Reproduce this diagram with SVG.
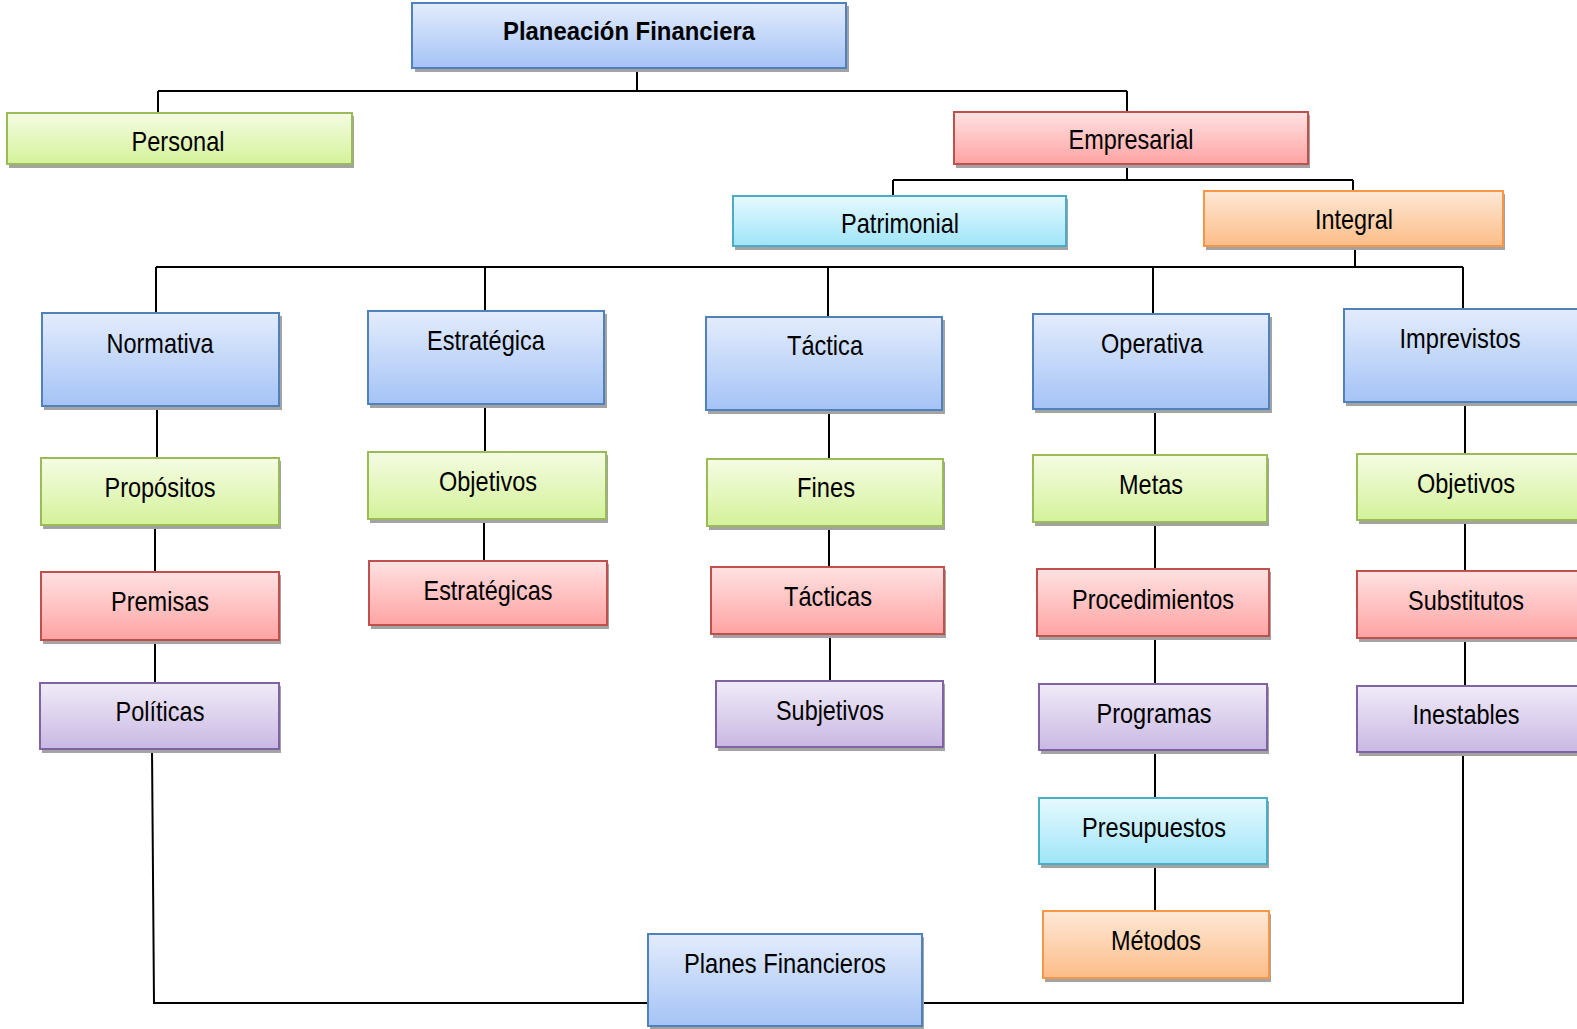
<svg xmlns="http://www.w3.org/2000/svg" width="1577" height="1029" viewBox="0 0 1577 1029">
<defs>
<linearGradient id="gBlue" x1="0" y1="0" x2="0" y2="1"><stop offset="0" stop-color="#e3ecfc"/><stop offset="1" stop-color="#a5c3f6"/></linearGradient>
<linearGradient id="gGreen" x1="0" y1="0" x2="0" y2="1"><stop offset="0" stop-color="#f5fce3"/><stop offset="1" stop-color="#d4f29a"/></linearGradient>
<linearGradient id="gRed" x1="0" y1="0" x2="0" y2="1"><stop offset="0" stop-color="#ffe2e2"/><stop offset="1" stop-color="#ffa3a3"/></linearGradient>
<linearGradient id="gCyan" x1="0" y1="0" x2="0" y2="1"><stop offset="0" stop-color="#e6f9fe"/><stop offset="1" stop-color="#9fe5f8"/></linearGradient>
<linearGradient id="gOrange" x1="0" y1="0" x2="0" y2="1"><stop offset="0" stop-color="#fee8d6"/><stop offset="1" stop-color="#fcbd88"/></linearGradient>
<linearGradient id="gPurple" x1="0" y1="0" x2="0" y2="1"><stop offset="0" stop-color="#f0ebf8"/><stop offset="1" stop-color="#c9b8e3"/></linearGradient>
</defs>
<style>
.sh{fill:#a3a3a3}
.blue{fill:url(#gBlue);stroke:#4f81bd;stroke-width:2}
.green{fill:url(#gGreen);stroke:#9bbb59;stroke-width:2}
.red{fill:url(#gRed);stroke:#c0504d;stroke-width:2}
.cyan{fill:url(#gCyan);stroke:#4bacc6;stroke-width:2}
.orange{fill:url(#gOrange);stroke:#f79646;stroke-width:2}
.purple{fill:url(#gPurple);stroke:#8064a2;stroke-width:2}
text{font-family:"Liberation Sans",Arial,sans-serif;font-size:28.5px;fill:#000;text-anchor:middle}
.title{font-weight:bold;font-size:25.5px}
.conn{fill:none;stroke:#000;stroke-width:2}
</style>
<g id="connectors" class="conn">
<path d="M637 68V92M158 91H1127M158 91V113M1127 91V112"/>
<path d="M1127 164V180M893 180H1353M893 180V196M1353 180V191"/>
<path d="M1355 246V267M156 267H1463M156 267V313M485 267V311M828 267V317M1153 267V314M1463 267V309"/>
<path d="M157 406V458M155 525V572M155 640V683"/>
<path d="M485 404V452M484 519V561"/>
<path d="M829 410V459M829 526V567M830 634V681"/>
<path d="M1155 409V455M1155 522V569M1155 636V684M1155 750V798M1155 864V911"/>
<path d="M1465 402V454M1465 520V571M1465 638V686"/>
<path d="M152 749L154 1003H648M1463 752V1003H921"/>
</g>
<g id="n-planeacion"><rect class="sh" x="415" y="6" width="434" height="66"/><rect class="blue" x="412" y="3" width="434" height="65"/><text class="title" x="629" y="40" textLength="252" lengthAdjust="spacingAndGlyphs">Planeación Financiera</text></g>
<g id="n-personal"><rect class="sh" x="9" y="116" width="345" height="52"/><rect class="green" x="7" y="113" width="345" height="51"/><text x="178" y="151" textLength="93" lengthAdjust="spacingAndGlyphs">Personal</text></g>
<g id="n-empresarial"><rect class="sh" x="956" y="115" width="354" height="53"/><rect class="red" x="954" y="112" width="354" height="52"/><text x="1131" y="149" textLength="125" lengthAdjust="spacingAndGlyphs">Empresarial</text></g>
<g id="n-patrimonial"><rect class="sh" x="735" y="199" width="333" height="51"/><rect class="cyan" x="733" y="196" width="333" height="50"/><text x="900" y="233" textLength="118" lengthAdjust="spacingAndGlyphs">Patrimonial</text></g>
<g id="n-integral"><rect class="sh" x="1206" y="194" width="299" height="56"/><rect class="orange" x="1204" y="191" width="299" height="55"/><text x="1354" y="229" textLength="78" lengthAdjust="spacingAndGlyphs">Integral</text></g>

<g id="n-normativa"><rect class="sh" x="44" y="316" width="238" height="94"/><rect class="blue" x="42" y="313" width="237" height="93"/><text x="160" y="353" textLength="107" lengthAdjust="spacingAndGlyphs">Normativa</text></g>
<g id="n-estrategica"><rect class="sh" x="370" y="314" width="237" height="94"/><rect class="blue" x="368" y="311" width="236" height="93"/><text x="486" y="350" textLength="118" lengthAdjust="spacingAndGlyphs">Estratégica</text></g>
<g id="n-tactica"><rect class="sh" x="708" y="320" width="237" height="94"/><rect class="blue" x="706" y="317" width="236" height="93"/><text x="825" y="355" textLength="76" lengthAdjust="spacingAndGlyphs">Táctica</text></g>
<g id="n-operativa"><rect class="sh" x="1035" y="317" width="237" height="96"/><rect class="blue" x="1033" y="314" width="236" height="95"/><text x="1152" y="353" textLength="102" lengthAdjust="spacingAndGlyphs">Operativa</text></g>
<g id="n-imprevistos"><rect class="sh" x="1346" y="312" width="233" height="94"/><rect class="blue" x="1344" y="309" width="234" height="93"/><text x="1460" y="348" textLength="121" lengthAdjust="spacingAndGlyphs">Imprevistos</text></g>

<g id="n-propositos"><rect class="sh" x="43" y="461" width="238" height="68"/><rect class="green" x="41" y="458" width="238" height="67"/><text x="160" y="497" textLength="111" lengthAdjust="spacingAndGlyphs">Propósitos</text></g>
<g id="n-objetivos1"><rect class="sh" x="370" y="455" width="238" height="68"/><rect class="green" x="368" y="452" width="238" height="67"/><text x="488" y="491" textLength="98" lengthAdjust="spacingAndGlyphs">Objetivos</text></g>
<g id="n-fines"><rect class="sh" x="709" y="462" width="236" height="68"/><rect class="green" x="707" y="459" width="236" height="67"/><text x="826" y="497" textLength="58" lengthAdjust="spacingAndGlyphs">Fines</text></g>
<g id="n-metas"><rect class="sh" x="1035" y="458" width="234" height="68"/><rect class="green" x="1033" y="455" width="234" height="67"/><text x="1151" y="494" textLength="64" lengthAdjust="spacingAndGlyphs">Metas</text></g>
<g id="n-objetivos2"><rect class="sh" x="1359" y="457" width="220" height="67"/><rect class="green" x="1357" y="454" width="221" height="66"/><text x="1466" y="493" textLength="98" lengthAdjust="spacingAndGlyphs">Objetivos</text></g>

<g id="n-premisas"><rect class="sh" x="43" y="575" width="238" height="69"/><rect class="red" x="41" y="572" width="238" height="68"/><text x="160" y="611" textLength="98" lengthAdjust="spacingAndGlyphs">Premisas</text></g>
<g id="n-estrategicas"><rect class="sh" x="371" y="564" width="238" height="65"/><rect class="red" x="369" y="561" width="238" height="64"/><text x="488" y="600" textLength="129" lengthAdjust="spacingAndGlyphs">Estratégicas</text></g>
<g id="n-tacticas"><rect class="sh" x="713" y="570" width="233" height="68"/><rect class="red" x="711" y="567" width="233" height="67"/><text x="828" y="606" textLength="88" lengthAdjust="spacingAndGlyphs">Tácticas</text></g>
<g id="n-procedimientos"><rect class="sh" x="1039" y="572" width="232" height="68"/><rect class="red" x="1037" y="569" width="232" height="67"/><text x="1153" y="609" textLength="162" lengthAdjust="spacingAndGlyphs">Procedimientos</text></g>
<g id="n-substitutos"><rect class="sh" x="1359" y="574" width="220" height="68"/><rect class="red" x="1357" y="571" width="221" height="67"/><text x="1466" y="610" textLength="116" lengthAdjust="spacingAndGlyphs">Substitutos</text></g>

<g id="n-politicas"><rect class="sh" x="42" y="686" width="239" height="67"/><rect class="purple" x="40" y="683" width="239" height="66"/><text x="160" y="721" textLength="89" lengthAdjust="spacingAndGlyphs">Políticas</text></g>
<g id="n-subjetivos"><rect class="sh" x="718" y="684" width="227" height="67"/><rect class="purple" x="716" y="681" width="227" height="66"/><text x="830" y="720" textLength="108" lengthAdjust="spacingAndGlyphs">Subjetivos</text></g>
<g id="n-programas"><rect class="sh" x="1041" y="687" width="228" height="67"/><rect class="purple" x="1039" y="684" width="228" height="66"/><text x="1154" y="723" textLength="115" lengthAdjust="spacingAndGlyphs">Programas</text></g>
<g id="n-inestables"><rect class="sh" x="1359" y="689" width="220" height="67"/><rect class="purple" x="1357" y="686" width="221" height="66"/><text x="1466" y="724" textLength="107" lengthAdjust="spacingAndGlyphs">Inestables</text></g>

<g id="n-presupuestos"><rect class="sh" x="1041" y="801" width="228" height="67"/><rect class="cyan" x="1039" y="798" width="228" height="66"/><text x="1154" y="837" textLength="144" lengthAdjust="spacingAndGlyphs">Presupuestos</text></g>
<g id="n-metodos"><rect class="sh" x="1045" y="914" width="226" height="68"/><rect class="orange" x="1043" y="911" width="226" height="67"/><text x="1156" y="950" textLength="90" lengthAdjust="spacingAndGlyphs">Métodos</text></g>

<g id="n-planes"><rect class="sh" x="650" y="937" width="274" height="93"/><rect class="blue" x="648" y="934" width="274" height="92"/><text x="785" y="973" textLength="202" lengthAdjust="spacingAndGlyphs">Planes Financieros</text></g>
</svg>
